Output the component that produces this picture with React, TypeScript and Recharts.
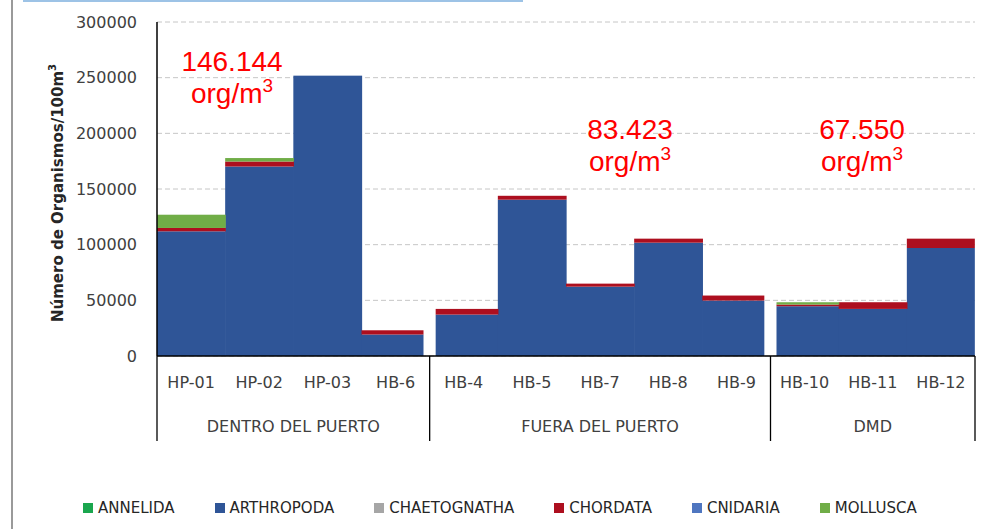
import { BarChart, Bar, XAxis, YAxis, CartesianGrid, Legend } from "recharts"

const stations = ['HP-01', 'HP-02', 'HP-03', 'HB-6', 'HB-4', 'HB-5', 'HB-7', 'HB-8', 'HB-9', 'HB-10', 'HB-11', 'HB-12']
const groupNames = ['DENTRO DEL PUERTO', 'FUERA DEL PUERTO', 'DMD']
const groupSizes = [4, 5, 3]
const groupMeans = ['146.144', '83.423', '67.550']

const annelida = [0, 0, 0, 0, 0, 0, 0, 0, 0, 0, 0, 0]
const arthropoda = [112000, 170200, 251800, 19300, 37200, 140400, 62300, 101800, 49800, 44700, 42300, 97000]
const chaetognatha = [0, 0, 0, 0, 0, 0, 0, 0, 0, 0, 0, 0]
const chordata = [3000, 4500, 0, 3800, 5100, 3500, 2700, 3600, 4500, 1500, 6000, 8400]
const cnidaria = [0, 0, 0, 0, 0, 0, 0, 0, 0, 0, 0, 0]
const mollusca = [11900, 3100, 0, 0, 0, 0, 0, 0, 0, 2100, 0, 0]

const yTicks = [0, 50000, 100000, 150000, 200000, 250000, 300000]

const data = stations.map((station, i) => ({
  station,
  annelida: annelida[i],
  arthropoda: arthropoda[i],
  chaetognatha: chaetognatha[i],
  chordata: chordata[i],
  cnidaria: cnidaria[i],
  mollusca: mollusca[i],
}))

const series = [
  { key: 'annelida', name: 'ANNELIDA', color: '#1aa64e' },
  { key: 'arthropoda', name: 'ARTHROPODA', color: '#2f5597' },
  { key: 'chaetognatha', name: 'CHAETOGNATHA', color: '#a6a6a6' },
  { key: 'chordata', name: 'CHORDATA', color: '#ad0f1f' },
  { key: 'cnidaria', name: 'CNIDARIA', color: '#4f76c0' },
  { key: 'mollusca', name: 'MOLLUSCA', color: '#70ad47' },
]

const W = 988
const H = 529
const MARGIN = { top: 22, right: 13, bottom: 6, left: 0 }
const Y_W = 157
const BAND = (W - MARGIN.left - MARGIN.right - Y_W) / stations.length
const FONT = "'DejaVu Sans', sans-serif"

// first / last index of each group
const groupStarts = groupSizes.map((_, g) => groupSizes.slice(0, g).reduce((a, b) => a + b, 0))
const groupEnds = groupStarts.map((s, g) => s + groupSizes[g] - 1)
const trimLeft = groupStarts.slice(1)
const trimRight = groupEnds.slice(0, -1)
const GAP = 6

function GapBar(props: any) {
  const { x, y, width, height, fill, index } = props
  if (!height || height <= 0) return null
  let left = x
  let w = width
  if (trimLeft.includes(index)) { left += GAP; w -= GAP }
  if (trimRight.includes(index)) w -= GAP
  // overlap neighbours slightly so no hairline seam shows between columns
  if (!groupEnds.includes(index)) w += 0.8
  return <rect x={left} y={y} width={w} height={height} fill={fill} />
}

function StationTick(props: any) {
  const { x, y, payload } = props
  const i = stations.indexOf(payload.value)
  const g = groupStarts.indexOf(i)
  return (
    <g>
      <text x={x} y={y + 32} textAnchor="middle" fontFamily={FONT} fontSize={16} fill="#404040">
        {payload.value}
      </text>
      {g >= 0 && (
        <>
          <line x1={x - BAND / 2} x2={x - BAND / 2} y1={y} y2={y + 85} stroke="#000" strokeWidth={1.3} />
          <text x={x - BAND / 2 + (groupSizes[g] * BAND) / 2} y={y + 76} textAnchor="middle" fontFamily={FONT} fontSize={16} fill="#404040">
            {groupNames[g]}
          </text>
        </>
      )}
      {i === stations.length - 1 && (
        <line x1={x + BAND / 2} x2={x + BAND / 2} y1={y} y2={y + 85} stroke="#000" strokeWidth={1.3} />
      )}
    </g>
  )
}

function YTitle(props: any) {
  const vb = props.viewBox
  const cx = vb.x + 58
  const cy = vb.y + vb.height / 2 + 4
  return (
    <text x={cx} y={cy} transform={`rotate(-90 ${cx} ${cy})`} textAnchor="middle" dominantBaseline="central"
      fontFamily={FONT} fontSize={15} fontWeight="bold" fill="#262626">
      Número de Organismos/100m<tspan fontSize={10} dy={-6}>3</tspan>
    </text>
  )
}

function LegendRow(props: any) {
  const items = props.payload || []
  return (
    <div style={{ display: 'flex', alignItems: 'center', height: 30, paddingLeft: 83, fontFamily: FONT, fontSize: 15, color: '#262626' }}>
      {items.map((p: any) => (
        <div key={p.value} style={{ display: 'flex', alignItems: 'center', marginRight: 40 }}>
          <span style={{ width: 10, height: 10, background: p.color, marginRight: 5, display: 'inline-block' }} />
          <span>{p.value}</span>
        </div>
      ))}
    </div>
  )
}

const notes = [
  { left: 232, top: 46 },
  { left: 630, top: 114 },
  { left: 862, top: 114 },
]

export default function App() {
  return (
    <div style={{ position: 'absolute', left: 0, top: 0, width: W, height: H, background: '#fff', overflow: 'hidden' }}>
      <div style={{ position: 'absolute', left: 11, top: 0, width: 2, height: H, background: '#9a9a9a' }} />
      <div style={{ position: 'absolute', left: 23, top: 0, width: 500, height: 2, background: '#9dc3e6' }} />
      <BarChart width={W} height={H} data={data} margin={MARGIN} barCategoryGap={0} barGap={0}>
        <CartesianGrid vertical={false} stroke="#c6c6c6" strokeDasharray="5 3" />
        <XAxis dataKey="station" interval={0} height={137} tickLine={false} tickSize={0} tickMargin={0}
          axisLine={{ stroke: '#000', strokeWidth: 1.5 }} tick={<StationTick />} />
        <YAxis width={Y_W} domain={[0, 300000]} ticks={yTicks} tickLine={false} tickSize={0} tickMargin={20}
          axisLine={{ stroke: '#000', strokeWidth: 1.5 }} tick={{ fontFamily: FONT, fontSize: 16, fill: '#404040' }}
          label={{ content: <YTitle /> }} />
        <Legend verticalAlign="bottom" wrapperStyle={{ left: 0, width: W, height: 30 }} content={<LegendRow />} />
        {series.map(s => (
          <Bar key={s.key} dataKey={s.key} name={s.name} stackId="a" fill={s.color} shape={<GapBar />} isAnimationActive={false} />
        ))}
      </BarChart>
      {notes.map((n, i) => (
        <div key={i} style={{ position: 'absolute', left: n.left - 60, top: n.top, width: 120, textAlign: 'center',
          fontFamily: "'Liberation Sans', Arial, sans-serif", fontSize: 28, lineHeight: '32px', color: '#ff0000' }}>
          <div>{groupMeans[i]}</div>
          <div>org/m<span style={{ fontSize: 19, position: 'relative', top: -11 }}>3</span></div>
        </div>
      ))}
    </div>
  )
}
